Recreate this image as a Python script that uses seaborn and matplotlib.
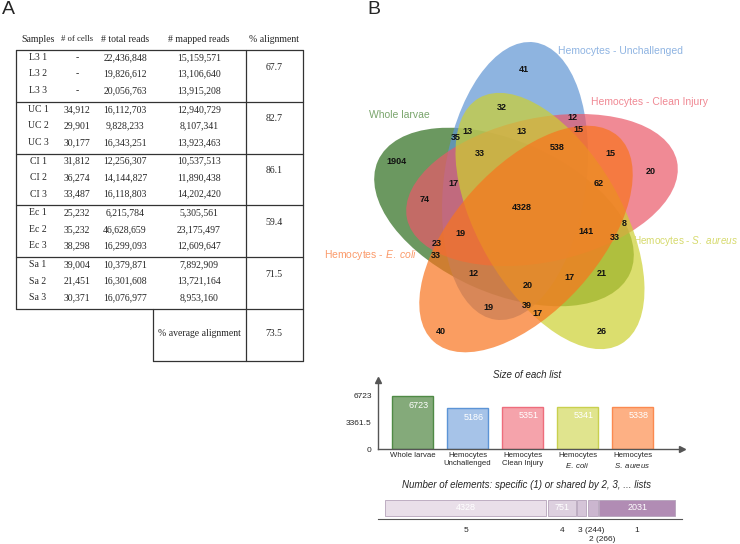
import matplotlib
matplotlib.use("Agg")
import matplotlib.pyplot as plt
from matplotlib.patches import Ellipse
import seaborn as sns
import pandas as pd

# ---------------- panel A: table values ----------------
headers = ["Samples", "# of cells", "# total reads", "# mapped reads", "% alignment"]
samples = ["L3 1", "L3 2", "L3 3", "UC 1", "UC 2", "UC 3", "CI 1", "CI 2", "CI 3",
           "Ec 1", "Ec 2", "Ec 3", "Sa 1", "Sa 2", "Sa 3"]
n_cells = ["-", "-", "-", "34,912", "29,901", "30,177", "31,812", "36,274", "33,487",
           "25,232", "35,232", "38,298", "39,004", "21,451", "30,371"]
total_reads = ["22,436,848", "19,826,612", "20,056,763", "16,112,703", "9,828,233", "16,343,251",
               "12,256,307", "14,144,827", "16,118,803", "6,215,784", "46,628,659", "16,299,093",
               "10,379,871", "16,301,608", "16,076,977"]
mapped_reads = ["15,159,571", "13,106,640", "13,915,208", "12,940,729", "8,107,341", "13,923,463",
                "10,537,513", "11,890,438", "14,202,420", "5,305,561", "23,175,497", "12,609,647",
                "7,892,909", "13,721,164", "8,953,160"]
pct_alignment = ["67.7", "82.7", "86.1", "59.4", "71.5"]
avg_alignment = "73.5"

# ---------------- panel B: venn ----------------
venn_labels = ["Whole larvae", "Hemocytes - Unchallenged", "Hemocytes - Clean Injury",
               r"Hemocytes - $\mathit{S.\ aureus}$", r"Hemocytes - $\mathit{E.\ coli}$"]
region_counts = [41, 32, 12, 15, 13, 35, 13, 33, 538, 15, 1904, 20, 17, 62,
                 74, 4328, 141, 8, 33, 19, 23, 33, 12, 17, 21, 20, 19, 39, 17, 40, 26]
region_x = [524, 502, 572, 578, 467, 456, 521, 480, 557, 610, 396, 651, 453, 599,
            425, 522, 586, 624, 615, 460, 437, 436, 473, 569, 602, 528, 488, 527, 537, 441, 602]
region_y = [69, 108, 118, 129, 132, 137, 131, 153, 148, 153, 162, 171, 184, 184,
            200, 207, 231, 224, 237, 234, 243, 256, 273, 277, 273, 285, 307, 306, 313, 331, 331]

# size of each list
list_names = ["Whole larvae", "Hemocytes\nUnchallenged", "Hemocytes\nClean Injury",
              "Hemocytes\n$\\mathit{E.\\ coli}$", "Hemocytes\n$\\mathit{S.\\ aureus}$"]
list_sizes = [6723, 5186, 5351, 5341, 5338]

# elements shared by n lists
shared_by = ["5", "4", "3 (244)", "2 (266)", "1"]
shared_counts = [4328, 751, 244, 266, 2031]

sns.set_style("white")
plt.rcParams["font.family"] = ["Liberation Sans", "DejaVu Sans"]
plt.rcParams["mathtext.fontset"] = "custom"
plt.rcParams["mathtext.rm"] = "Liberation Sans"
plt.rcParams["mathtext.it"] = "Liberation Sans:italic"

fig = plt.figure(figsize=(7.4, 5.44), dpi=100)

# overlay in pixel units for table + venn
ax = fig.add_axes([0, 0, 1, 1])
ax.set_xlim(0, 740)
ax.set_ylim(544, 0)
ax.axis("off")

ax.text(8, 10, "A", fontsize=14, ha="center", va="center")
ax.text(374, 10, "B", fontsize=14, ha="center", va="center")

# ---- table ----
serif = ["Liberation Serif", "DejaVu Serif"]
col_x = [38, 77, 125, 199, 274]
head_size = [7, 6.2, 7, 7, 7]
for x, h, fs in zip(col_x, headers, head_size):
    ax.text(x, 39, h, family=serif, fontsize=fs, ha="center", va="center")

top, gh = 50, 51.8
lc = "#333333"
for i in range(15):
    g, r = divmod(i, 3)
    y = top + g * gh + 7.5 + 16.5 * r
    for x, v in zip(col_x[:4], [samples[i], n_cells[i], total_reads[i], mapped_reads[i]]):
        ax.text(x, y, v, family=serif, fontsize=7, ha="center", va="center")
for g, v in enumerate(pct_alignment):
    ax.text(col_x[4], top + g * gh + 17, v, family=serif, fontsize=7, ha="center", va="center")

for g in range(6):
    ax.plot([16, 303], [top + g * gh] * 2, color=lc, lw=0.9)
bottom = top + 5 * gh
ax.plot([16, 16], [top, bottom], color=lc, lw=0.9)
ax.plot([303, 303], [top, 361], color=lc, lw=0.9)
ax.plot([246, 246], [top, 361], color=lc, lw=0.9)
ax.plot([153, 153], [bottom, 361], color=lc, lw=0.9)
ax.plot([153, 303], [361, 361], color=lc, lw=0.9)
ax.text(199, 334, "% average alignment", family=serif, fontsize=7, ha="center", va="center")
ax.text(274, 334, avg_alignment, family=serif, fontsize=7, ha="center", va="center")

# ---- venn ellipses: (cx, cy, semi-long, semi-short, angle) ----
ell = [(504, 217, 138, 76, -24, "#2d6c1c"),
       (515, 181, 140, 71, 82, "#5f94d3"),
       (542, 190, 138, 72, 12, "#ea5869"),
       (550, 221, 142, 72, -60, "#cdd030"),
       (526, 239, 138, 72, 48, "#f8741e")]
for cx, cy, a, b, ang, c in ell:
    ax.add_patch(Ellipse((cx, cy), 2 * a, 2 * b, angle=-ang, facecolor=c,
                         edgecolor="none", alpha=0.7))

for v, x, y in zip(region_counts, region_x, region_y):
    ax.text(x, y, str(v), fontsize=6.5, fontweight="bold", ha="center", va="center",
            color="#111111")

lab_col = ["#7aa56c", "#8fb4e2", "#f08893", "#d6da6c", "#fb9a6a"]
ax.text(369, 115, venn_labels[0], color=lab_col[0], fontsize=7.5, ha="left", va="center")
ax.text(558, 51, venn_labels[1], color=lab_col[1], fontsize=7.5, ha="left", va="center")
ax.text(591, 102, venn_labels[2], color=lab_col[2], fontsize=7.5, ha="left", va="center")
ax.text(738, 241, venn_labels[3], color=lab_col[3], fontsize=7.2, ha="right", va="center")
ax.text(417, 255, venn_labels[4], color=lab_col[4], fontsize=7.5, ha="right", va="center")

ax.text(527, 375, "Size of each list", fontsize=7, style="italic", ha="center", va="center")
ax.text(527, 485, "Number of elements: specific (1) or shared by 2, 3, ... lists",
        fontsize=7, style="italic", ha="center", va="center")

# ---- size of each list ----
fills = ["#84aa7a", "#a6c3e8", "#f5a3ab", "#e0e48e", "#fdb084"]
edges = ["#4f8a45", "#5c94d6", "#ee6d7c", "#c9d04e", "#fb8a50"]
df = pd.DataFrame({"list": list_names, "size": list_sizes})
axb = fig.add_axes([378 / 740, (544 - 449) / 544, 304 / 740, 69 / 544])
axb.patch.set_alpha(0)
sns.barplot(data=df, x="list", y="size", hue="list", palette=fills, legend=False,
            width=0.745, saturation=1, ax=axb)
for p, ec in zip(axb.patches, edges):
    p.set_edgecolor(ec)
    p.set_linewidth(1)
for i, v in enumerate(list_sizes):
    axb.annotate(str(v), (i + 0.745 / 2, v), xytext=(-3, -6.5), textcoords="offset points",
                 ha="right", va="center", color="white", fontsize=6.5)
axb.set_xlim(-0.627, 4.9)
axb.set_ylim(0, 8750)
axb.set_yticks([0, 3361.5, 6723], ["0", "3361.5", "6723"])
axb.set_xlabel("")
axb.set_ylabel("")
for s in ["top", "right"]:
    axb.spines[s].set_visible(False)
for s in ["left", "bottom"]:
    axb.spines[s].set_color("#555555")
    axb.spines[s].set_linewidth(1)
axb.tick_params(axis="y", length=3, width=0.8, pad=1.5, labelsize=6, color="#555555")
axb.tick_params(axis="x", length=0, pad=2.5, labelsize=5.6)
axb.plot(1, 0, ">", color="#555555", markersize=4, transform=axb.transAxes, clip_on=False)
axb.plot(0, 1, "^", color="#555555", markersize=4, transform=axb.transAxes, clip_on=False)

# ---- shared-by stacked bar ----
gap = 40
lefts = []
pos = 0
for v in shared_counts:
    lefts.append(pos)
    pos += v + gap
seg_col = ["#e9dfe9", "#ddd0df", "#d5c5d8", "#cbb6cf", "#b18cb4"]
axs = fig.add_axes([378 / 740, (544 - 519) / 544, 304 / 740, 22 / 544])
axs.patch.set_alpha(0)
axs.barh([0.5] * 5, shared_counts, left=lefts, height=0.73, color=seg_col,
         edgecolor="#b5a3ba", linewidth=0.6)
axs.set_xlim(-188, pos - gap + 188)
axs.set_ylim(0, 1)
centers = [l + v / 2 for l, v in zip(lefts, shared_counts)]
for c, v in zip(centers, shared_counts):
    if v > 500:
        axs.text(c, 0.5, str(v), color="white", fontsize=6.5, ha="center", va="center")
axs.set_xticks(centers, [""] * 5)
axs.set_yticks([])
for s in ["top", "right", "left"]:
    axs.spines[s].set_visible(False)
axs.spines["bottom"].set_color("#555555")
axs.tick_params(axis="x", length=3.5, width=0.8, color="#555555")
offs = [(0, -8, "center"), (0, -8, "center"), (-2.5, -8, "left"), (-2.5, -14.5, "left"),
        (0, -8, "center")]
for c, lab, (dx, dy, ha) in zip(centers, shared_by, offs):
    axs.annotate(lab, (c, 0), xycoords=("data", "axes fraction"), xytext=(dx, dy),
                 textcoords="offset points", ha=ha, va="center", fontsize=6)

fig.savefig("out.png", dpi=100)
